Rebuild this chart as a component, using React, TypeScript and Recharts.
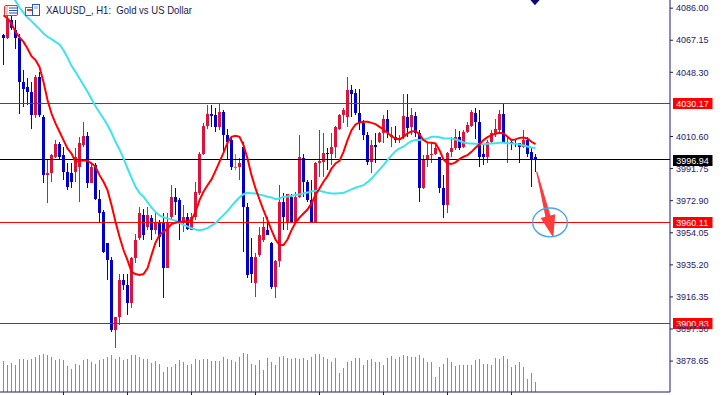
import React from 'react';
import { ComposedChart, Bar, Line, XAxis, YAxis, ReferenceLine, ReferenceDot } from 'recharts';

// ---- data (XAUUSD H1) ----
const openP = [4070.1,4068.2,4078.9,4073.1,4068.2,4042.7,4039.8,4036.9,4023.2,4045.7,4022.2,3987.9,3988.9,3998.7,4006.1,3999.7,3989.9,3988.9,3989.9,3992.8,4005.5,4010.8,3983.4,3993.8,3973.6,3966.4,3947.8,3938.0,3896.9,3904.7,3926.2,3923.3,3912.5,3939.0,3950.7,3964.4,3957.6,3962.5,3955.6,3960.5,3960.5,3933.1,3963.4,3975.2,3973.2,3960.5,3963.4,3955.6,3963.4,3977.5,4000.2,4016.7,4023.7,4023.2,4016.3,4025.1,4011.4,4008.5,3992.8,3992.8,4004.6,3969.3,3939.9,3924.3,3940.9,3949.7,3955.6,3947.8,3921.9,3937.6,3972.2,3960.5,3975.2,3960.5,3975.2,3997.7,3984.0,3973.2,3960.5,3994.8,3995.7,4001.0,4000.2,4004.6,4015.3,4023.0,4022.2,4037.8,4035.9,4024.5,4018.3,4011.4,3995.7,4005.5,4007.5,4012.4,4020.8,4010.4,4010.4,4008.5,4010.4,4022.2,4016.3,4022.6,4012.8,3980.1,3996.7,3999.7,4000.6,3998.7,3980.1,3970.3,4001.6,4003.6,4010.4,4004.6,4013.4,4016.7,4024.5,4019.2,4000.6,3998.3,4007.5,4012.4,4014.7,4024.1,4006.5,4007.5,4006.9,4006.5,4004.6,4008.5,4001.6,3998.7];
const highP = [4071.1,4081.9,4081.9,4078.9,4071.1,4049.6,4044.7,4042.7,4046.7,4048.6,4023.2,3996.7,4000.6,4008.5,4007.5,4004.6,3994.8,3994.8,4003.6,4010.4,4019.2,4013.4,3994.8,3994.8,3979.1,3967.3,3947.8,3939.9,3904.7,3929.8,3929.8,3929.8,3939.9,3953.6,3969.3,3968.3,3969.3,3964.4,3965.4,3961.5,3965.4,3965.4,3982.0,3980.1,3974.2,3970.3,3965.4,3965.4,3984.0,4001.6,4018.3,4029.0,4029.0,4027.1,4030.0,4026.1,4015.3,4010.4,4000.6,3997.7,4007.5,3971.3,3950.7,3941.9,3957.6,3963.4,3963.4,3948.8,3938.0,3982.0,3977.5,3977.1,3977.1,3978.1,4011.4,4000.6,3985.0,3985.0,3995.7,4014.3,4012.4,4003.6,4012.4,4016.7,4024.1,4027.1,4045.7,4040.8,4038.8,4038.8,4020.2,4013.4,4008.5,4012.4,4013.4,4023.2,4026.1,4016.3,4016.7,4011.4,4035.5,4035.5,4027.1,4025.1,4014.3,3999.7,4007.5,4006.5,4006.5,3998.7,3987.9,4001.6,4010.4,4015.3,4014.0,4014.7,4019.2,4026.1,4027.1,4026.1,4005.5,4008.5,4014.3,4020.6,4026.1,4029.6,4010.4,4008.9,4009.4,4006.5,4014.7,4010.4,4004.6,4000.6];
const lowP = [4052.5,4067.6,4073.1,4062.3,4024.1,4028.0,4029.0,4015.3,4021.2,4022.2,3983.0,3971.3,3984.0,3997.7,3996.7,3985.0,3979.1,3980.1,3984.0,3972.2,4004.6,3980.1,3983.0,3973.2,3960.5,3941.9,3926.2,3895.9,3886.1,3899.8,3920.4,3905.7,3909.6,3936.0,3949.7,3949.7,3955.6,3949.7,3953.6,3945.8,3915.5,3933.1,3961.5,3964.4,3949.7,3954.6,3955.6,3955.6,3961.5,3976.2,3999.7,4015.3,4016.3,4013.4,4014.3,4001.6,3996.7,3990.8,3990.8,3985.0,3942.9,3927.2,3924.3,3916.4,3939.9,3948.8,3952.7,3921.3,3915.5,3934.1,3955.6,3955.6,3959.5,3959.9,3974.2,3975.2,3972.2,3959.9,3960.5,3986.9,3986.9,3990.8,3993.8,3997.7,4014.3,4018.3,4016.3,4022.2,4023.2,4014.3,4008.5,3993.8,3988.9,3994.8,4006.5,4006.5,4010.0,4004.6,4006.5,4006.5,4009.4,4010.4,4011.4,4010.4,3972.2,3979.5,3992.8,3994.8,3999.7,3977.5,3962.5,3965.4,3998.7,4002.6,4002.6,4003.6,4012.4,4016.3,4009.4,3992.8,3993.8,3994.8,4006.5,4010.4,4013.4,4006.5,3994.8,4002.6,4004.6,3994.8,4003.6,3998.7,3981.1,3989.9];
const closeP = [4068.2,4079.9,4074.1,4068.2,4042.7,4038.8,4036.9,4023.2,4045.7,4023.2,3987.9,3988.9,3999.7,4006.1,3998.7,3989.9,3981.1,3984.0,3998.7,4006.5,4010.8,3983.4,3992.8,3973.6,3965.4,3942.9,3938.0,3896.9,3904.7,3926.2,3923.3,3912.5,3939.0,3949.7,3965.4,3952.7,3964.4,3955.6,3960.5,3951.7,3933.1,3960.5,3975.2,3972.2,3960.5,3963.4,3956.0,3963.4,3978.1,4000.6,4016.7,4024.1,4022.6,4016.3,4025.1,4011.4,4007.5,3992.4,3992.8,3994.8,3969.3,3929.2,3930.1,3939.9,3952.7,3957.6,3952.7,3921.9,3937.6,3972.2,3963.4,3976.6,3960.5,3975.2,3998.3,3984.0,3973.2,3960.5,3994.8,3996.1,4001.0,4000.2,4004.6,4015.9,4023.0,4026.1,4037.8,4035.5,4024.5,4018.3,4011.4,3995.7,4005.5,4004.6,4012.4,4020.8,4012.4,4011.4,4008.5,4009.8,4022.6,4015.7,4023.5,4012.8,3980.1,3997.1,3999.7,4000.6,4003.6,3980.1,3970.3,4001.0,4003.6,4010.4,4003.6,4013.4,4017.3,4025.1,4019.2,3998.7,3998.3,4007.5,4012.8,4015.3,4024.1,4007.5,4006.9,4006.5,4006.1,4004.6,4008.5,4000.6,3997.1,3996.9];
const maFast = [4081.9,4079.9,4077.0,4072.1,4068.8,4066.2,4062.3,4057.8,4055.5,4051.5,4042.7,4032.0,4024.1,4018.3,4013.4,4008.5,4003.6,4000.6,3995.7,3996.3,3996.7,3996.3,3994.8,3992.8,3987.9,3984.0,3979.1,3970.3,3960.5,3951.7,3943.9,3938.0,3931.1,3929.8,3929.2,3929.8,3933.1,3940.9,3948.2,3952.7,3954.6,3956.6,3959.1,3959.9,3960.5,3960.7,3960.9,3961.5,3966.4,3973.2,3978.1,3982.0,3985.4,3990.4,3995.7,4001.0,4006.9,4010.4,4011.0,4010.4,4005.5,3997.7,3987.9,3980.1,3973.6,3967.3,3961.5,3955.6,3950.1,3946.8,3946.8,3950.1,3955.6,3959.9,3963.0,3965.4,3967.7,3971.3,3976.2,3980.1,3984.0,3987.3,3991.8,3994.8,3996.3,4001.6,4008.5,4014.3,4017.7,4018.8,4019.2,4019.2,4018.6,4017.9,4016.3,4014.7,4012.8,4010.8,4009.4,4008.9,4010.4,4012.4,4013.6,4013.8,4011.8,4008.5,4007.1,4006.9,4006.5,4002.6,3997.1,3994.8,3994.4,3995.4,3997.3,3998.7,3999.7,4001.6,4004.0,4006.1,4008.5,4010.2,4011.4,4012.2,4012.8,4012.4,4010.4,4008.5,4008.9,4009.8,4010.0,4009.4,4007.5,4006.1];
const maSlow = [4102.0,4098.1,4094.2,4090.3,4086.4,4083.3,4080.5,4078.4,4076.0,4073.7,4071.1,4069.2,4067.8,4066.2,4064.7,4061.3,4057.0,4052.1,4048.6,4044.7,4040.8,4036.9,4032.6,4028.4,4024.7,4021.2,4017.3,4012.8,4007.5,4003.0,3997.7,3991.8,3986.5,3981.1,3977.5,3975.2,3972.0,3968.9,3966.2,3964.2,3963.2,3962.5,3961.9,3961.1,3959.9,3958.7,3957.8,3956.8,3956.0,3955.6,3956.0,3956.8,3958.2,3959.7,3962.1,3964.4,3966.8,3969.7,3972.4,3974.8,3976.7,3977.5,3977.3,3977.1,3976.5,3976.0,3975.2,3974.8,3973.8,3974.2,3975.2,3975.4,3975.8,3976.2,3976.5,3977.1,3977.7,3978.3,3978.7,3978.7,3978.1,3977.5,3977.1,3977.1,3977.3,3977.5,3978.5,3979.5,3980.5,3981.3,3982.0,3983.8,3985.9,3988.5,3991.2,3993.8,3996.7,3999.5,4002.0,4003.6,4004.6,4006.5,4007.9,4008.5,4008.5,4008.9,4009.4,4010.4,4010.4,4010.2,4009.6,4009.4,4009.4,4008.9,4008.1,4007.1,4006.7,4006.5,4006.3,4006.1,4006.1,4006.3,4006.5,4006.7,4006.9,4006.9,4006.7,4006.5,4006.3,4005.9,4005.3,4004.7,4004.1,4003.9];
const volumeV = [920,800,880,820,1000,1000,950,1000,1050,1100,1150,1120,1050,950,1000,950,780,700,850,800,950,1000,900,850,950,1000,1050,1100,1000,1050,950,1000,1100,1120,1050,1000,980,880,920,850,600,750,750,850,950,900,800,850,1000,950,1000,1000,920,920,920,1050,1000,950,900,1050,1180,1150,850,820,950,650,1020,900,820,1050,1080,1020,1000,1020,1000,1020,950,1050,1150,1150,1050,980,900,1020,580,720,900,920,1020,1020,820,950,980,900,900,820,1020,1080,1000,1050,1100,1080,1050,1050,1120,1020,900,900,450,750,850,1020,900,780,800,800,800,820,950,980,850,850,800,1020,1000,1080,1000,750,800,900,750,380,580,300];

const yTicks = [4086.0, 4067.15, 4048.3, 4010.6, 3991.75, 3972.9, 3954.05, 3935.2, 3916.35, 3897.5, 3878.65];
const xTicks = [15, 31, 47, 63, 79, 95, 111, 127];
const priceLevels = [
  { value: 4030.17, color: '#ff0000' },
  { value: 3996.94, color: '#000000' },
  { value: 3960.11, color: '#ff0000' },
  { value: 3900.83, color: '#ff0000' },
];
const arrowFrom = { x: 133, y: 3990.0 };
const arrowTo = { x: 137, y: 3955.7 };
const targetMark = { x: 137, y: 3960.11 };
const signalMark = { x: 133, y: 4090.8 };
const titleText = 'XAUUSD_, H1:  Gold vs US Dollar';
const SLOTS = 167;

const data = Array.from({ length: SLOTS }, (_, i) =>
  i < openP.length
    ? { i, range: [lowP[i], highP[i]], o: openP[i], h: highP[i], l: lowP[i], c: closeP[i], maF: maFast[i], maS: maSlow[i], vol: volumeV[i] }
    : { i }
);

const NAVY = '#1b1b6b';
const BULL = '#dc143c';
const BEAR = '#0000cd';
const DOJI = '#22cc22';
const VOLC = '#32cd32';
const FONT = '"Liberation Sans", Arial, sans-serif';

const Candle = (props: any) => {
  const { x, y, width, height, payload } = props;
  if (!payload || payload.o == null) return null;
  const top = Math.min(y, y + height);
  const h = Math.abs(height);
  const span = payload.h - payload.l;
  const k = span > 0 ? h / span : 0;
  const py = (p: number) => top + (payload.h - p) * k;
  const cx = x + width / 2;
  const color = payload.c > payload.o ? BULL : payload.c < payload.o ? BEAR : DOJI;
  const wx = Math.round(cx - 0.5);
  const bTop = Math.round(py(Math.max(payload.o, payload.c)));
  const bBot = Math.round(py(Math.min(payload.o, payload.c)));
  const wTop = Math.round(top);
  const wBot = Math.round(top + h);
  return (
    <g>
      <rect x={wx} y={wTop} width={1} height={Math.max(1, wBot - wTop)} fill={color} />
      <rect x={wx - 1} y={bTop} width={3} height={Math.max(1, bBot - bTop)} fill={color} />
    </g>
  );
};

const VolBar = (props: any) => {
  const { x, y, width, height } = props;
  if (height == null || isNaN(height)) return null;
  const top = Math.round(y);
  return <rect x={Math.round(x + width / 2 - 0.5)} y={top} width={1} height={Math.max(0, 392 - top)} fill={VOLC} />;
};

const PriceTag = (props: any) => {
  const { viewBox, text, bg } = props;
  if (!viewBox) return null;
  const x = viewBox.x + viewBox.width + 3;
  const y = Math.round(viewBox.y) - 5;
  return (
    <g>
      <rect x={x} y={y} width={39.5} height={11} fill={bg} />
      <text x={x + 3.3} y={y + 8.6} fill="#ffffff" fontSize={9} fontFamily={FONT}>{text}</text>
    </g>
  );
};

const ArrowShape = (props: any) => {
  const { x1, y1, x2, y2 } = props;
  if (x1 == null) return null;
  const sx = x1 + 1.2, sy = y1, tx = x2 + 1.8, ty = y2 + 7.5;
  const dx = tx - sx, dy = ty - sy;
  const L = Math.sqrt(dx * dx + dy * dy);
  const ux = dx / L, uy = dy / L;
  const nx = -uy, ny = ux;
  const bx = tx - ux * 22, by = ty - uy * 22;
  const pts = [
    [sx + nx * 0.6, sy + ny * 0.6],
    [bx + nx * 2.6, by + ny * 2.6],
    [bx + nx * 7.5, by + ny * 7.5],
    [tx, ty],
    [bx - nx * 7.5, by - ny * 7.5],
    [bx - nx * 2.6, by - ny * 2.6],
    [sx - nx * 0.6, sy - ny * 0.6],
  ].map((p) => p.join(',')).join(' ');
  return <polygon points={pts} fill="#ff3b3b" />;
};

const EllipseShape = (props: any) => {
  const { cx, cy } = props;
  if (cx == null) return null;
  return <ellipse cx={cx - 1.5} cy={cy} rx={17.3} ry={14.4} fill="none" stroke="#49a6ea" strokeWidth={1.4} />;
};

const DiamondShape = (props: any) => {
  const { cx, cy } = props;
  if (cx == null) return null;
  const c = cx - 0.5;
  return <polygon points={`${c - 4.6},${cy} ${c},${cy - 5} ${c + 4.6},${cy} ${c},${cy + 5.2}`} fill="#0a0a78" />;
};

export default function App() {
  return (
    <div style={{ position: 'absolute', left: 0, top: 0, width: 723, height: 395, background: '#ffffff', overflow: 'hidden' }}>
      <ComposedChart width={723} height={395} data={data} margin={{ top: 0, right: 0, bottom: 0, left: 0 }}>
        <XAxis
          xAxisId="p"
          dataKey="i"
          type="category"
          ticks={xTicks}
          interval={0}
          tickFormatter={() => ''}
          tickSize={3}
          height={3}
          padding={{ left: 1.5, right: 0.5 }}
          axisLine={{ stroke: NAVY }}
          tickLine={{ stroke: NAVY }}
        />
        <XAxis xAxisId="v" dataKey="i" type="category" hide padding={{ left: 1.5, right: 0.5 }} />
        <YAxis
          yAxisId="p"
          orientation="right"
          domain={[3860.5, 4090.8]}
          allowDataOverflow
          ticks={yTicks}
          interval={0}
          width={53}
          tickSize={3}
          tickMargin={3}
          tickFormatter={(v: number) => v.toFixed(2)}
          tick={{ fill: NAVY, fontSize: 9, fontFamily: FONT }}
          axisLine={{ stroke: NAVY }}
          tickLine={{ stroke: NAVY }}
        />
        <YAxis yAxisId="v" hide domain={[0, 11760]} allowDataOverflow />
        <Bar xAxisId="v" yAxisId="v" dataKey="vol" shape={VolBar} isAnimationActive={false} />
        {priceLevels.map((lv) => (
          <ReferenceLine
            key={lv.value}
            xAxisId="p"
            yAxisId="p"
            y={lv.value}
            stroke={lv.color}
            strokeWidth={1}
            shapeRendering="crispEdges"
            label={{ content: (p: any) => <PriceTag {...p} text={lv.value.toFixed(2)} bg={lv.color} /> }}
          />
        ))}
        <Bar xAxisId="p" yAxisId="p" dataKey="range" shape={Candle} isAnimationActive={false} />
        <Line xAxisId="p" yAxisId="p" dataKey="maS" stroke="#3ee3ee" strokeWidth={2} dot={false} activeDot={false} isAnimationActive={false} type="linear" />
        <Line xAxisId="p" yAxisId="p" dataKey="maF" stroke="#ff0000" strokeWidth={2} dot={false} activeDot={false} isAnimationActive={false} type="linear" />
        <ReferenceDot xAxisId="p" yAxisId="p" x={targetMark.x} y={targetMark.y} ifOverflow="visible" shape={EllipseShape} />
        <ReferenceLine xAxisId="p" yAxisId="p" segment={[arrowFrom, arrowTo]} ifOverflow="visible" shape={ArrowShape} />
        <ReferenceDot xAxisId="p" yAxisId="p" x={signalMark.x} y={signalMark.y} ifOverflow="visible" shape={DiamondShape} />
      </ComposedChart>
      <svg width={723} height={395} style={{ position: 'absolute', left: 0, top: 0, pointerEvents: 'none' }}>
        <g>
          <rect x={4.5} y={5.5} width={13} height={10} rx={1.5} fill="#ffffff" stroke="#d33b3b" strokeWidth={1} />
          <rect x={5} y={6} width={3} height={9} fill="#f4c0c0" />
          <line x1={9} y1={8} x2={17} y2={8} stroke="#2a55c0" strokeWidth={1} />
          <line x1={9} y1={10.5} x2={17} y2={10.5} stroke="#2a55c0" strokeWidth={1} />
          <line x1={9} y1={13} x2={17} y2={13} stroke="#2a55c0" strokeWidth={1} />
          <rect x={25.5} y={7.5} width={8} height={8} fill="#ffffff" stroke="#d33b3b" strokeWidth={1} />
          <rect x={27} y={9} width={5} height={2} fill="#d33b3b" />
          <rect x={32.5} y={4.5} width={7} height={11} fill="#ffffff" stroke="#2a55c0" strokeWidth={1} />
          <rect x={34} y={6} width={4} height={3} fill="#c0c8e8" />
        </g>
        <text x={46} y={14.3} fontSize={10.2} fontFamily={FONT} fill="#1a1a4e" textLength={146} lengthAdjust="spacingAndGlyphs" style={{ whiteSpace: 'pre' }}>
          {titleText}
        </text>
      </svg>
    </div>
  );
}
